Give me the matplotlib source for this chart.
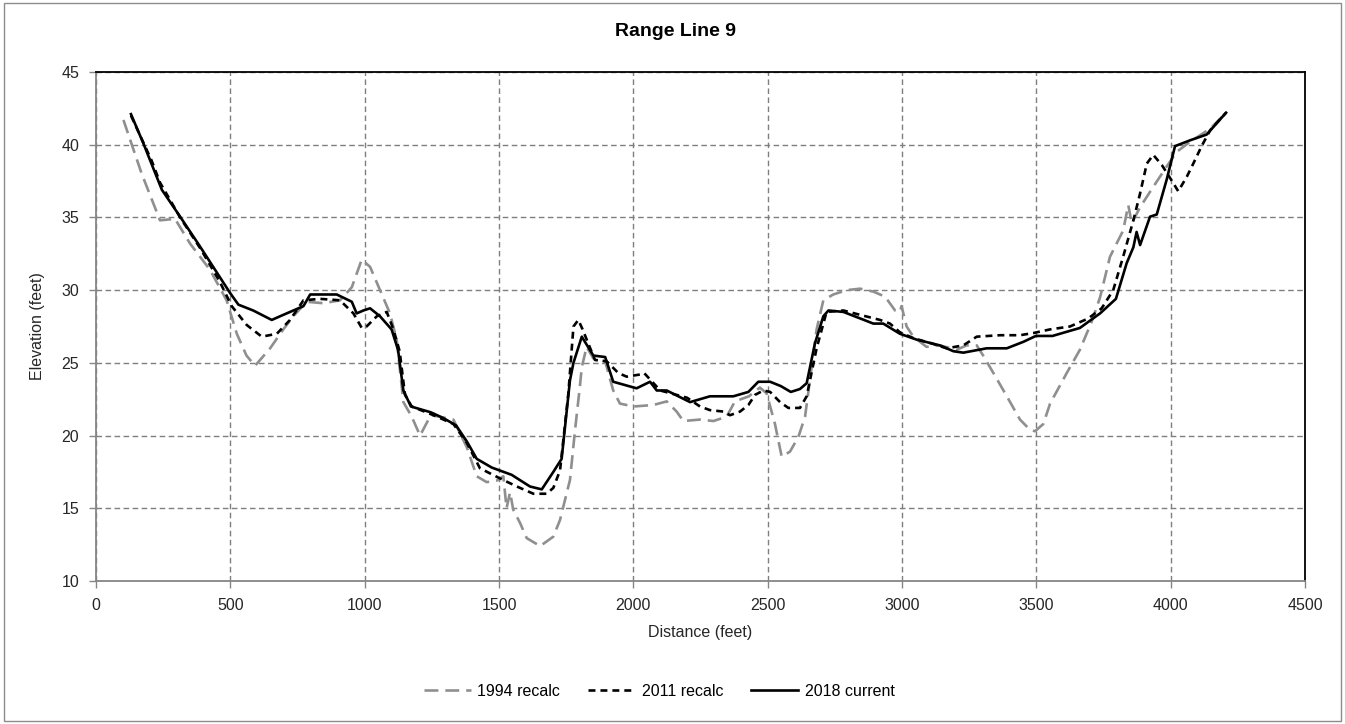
import numpy as np
import matplotlib.pyplot as plt
from matplotlib.patches import Rectangle

plt.rcParams['font.family'] = ['Liberation Sans', 'DejaVu Sans']
plt.rcParams['lines.scale_dashes'] = False

# survey profiles: distance (ft) and elevation (ft)
x_1994 = [102, 170, 238, 294, 350, 424, 486, 524, 560, 592, 648, 697, 734, 784, 846, 908,
          952, 989, 1020, 1057, 1094, 1119, 1144, 1175, 1206, 1243, 1250, 1330, 1380, 1417,
          1454, 1491, 1516, 1528, 1541, 1553, 1578, 1603, 1653, 1702, 1727, 1764, 1783, 1801,
          1808, 1826, 1851, 1895, 1925, 1950, 2000, 2074, 2124, 2161, 2186, 2248, 2298, 2347,
          2378, 2430, 2471, 2496, 2527, 2552, 2583, 2614, 2639, 2657, 2682, 2707, 2744, 2794,
          2844, 2893, 2937, 2974, 2992, 2998, 3017, 3042, 3091, 3141, 3203, 3240, 3278, 3302,
          3340, 3390, 3439, 3476, 3495, 3526, 3551, 3613, 3662, 3705, 3737, 3774, 3823, 3842,
          3855, 3886, 3935, 3985, 4022, 4072, 4147, 4190]
y_1994 = [41.7, 38.0, 34.8, 34.9, 33.2, 31.4, 29.3, 27.0, 25.5, 24.8, 26.0, 27.3, 28.2, 29.2,
          29.1, 29.3, 30.2, 32.1, 31.6, 30.0, 28.4, 26.6, 22.3, 21.3, 20.0, 21.3, 21.4, 21.1,
          19.2, 17.2, 16.8, 16.9, 17.2, 15.0, 16.1, 14.9, 14.0, 12.95, 12.4, 13.05, 14.2, 16.95,
          20.4, 23.4, 24.7, 26.1, 25.3, 25.1, 23.1, 22.2, 22.0, 22.1, 22.35, 21.65, 21.0, 21.1,
          21.0, 21.3, 22.35, 22.7, 23.3, 22.9, 20.8, 18.55, 18.9, 19.9, 21.3, 23.8, 27.3, 29.3,
          29.7, 30.0, 30.1, 29.9, 29.55, 28.6, 28.5, 28.9, 27.5, 26.8, 26.1, 26.2, 25.9, 26.2,
          26.2, 25.5, 24.3, 22.7, 21.1, 20.4, 20.3, 20.8, 22.2, 24.3, 25.9, 27.8, 29.5, 32.3,
          34.1, 35.85, 34.6, 35.7, 37.1, 38.5, 39.5, 40.2, 41.1, 41.9]

x_2011 = [130, 207, 238, 313, 387, 460, 505, 561, 617, 673, 722, 772, 834, 908, 958, 989,
          1007, 1045, 1082, 1107, 1130, 1150, 1175, 1256, 1330, 1380, 1429, 1504, 1566, 1628,
          1677, 1702, 1727, 1758, 1777, 1795, 1811, 1857, 1901, 1944, 1975, 2025, 2040, 2100,
          2200, 2248, 2285, 2335, 2360, 2397, 2428, 2453, 2484, 2509, 2546, 2577, 2620, 2645,
          2682, 2719, 2782, 2844, 2918, 2955, 2992, 3042, 3116, 3166, 3228, 3278, 3365, 3439,
          3489, 3551, 3625, 3693, 3743, 3786, 3823, 3861, 3886, 3911, 3935, 3967, 3998, 4028,
          4060, 4084, 4115, 4147, 4206]
y_2011 = [42.0, 38.9, 37.4, 35.0, 32.9, 30.6, 28.9, 27.6, 26.8, 27.0, 27.95, 29.3, 29.4,
          29.3, 28.4, 27.4, 27.5, 28.2, 28.5, 27.3, 25.8, 22.8, 22.0, 21.4, 20.8, 19.5, 17.75,
          17.05, 16.5, 16.0, 16.0, 16.4, 17.6, 22.9, 27.5, 27.95, 27.3, 25.2, 25.1, 24.3, 24.05,
          24.2, 24.3, 23.1, 22.6, 22.0, 21.75, 21.65, 21.4, 21.65, 22.1, 22.8, 23.1, 23.0, 22.3,
          21.9, 21.9, 22.7, 26.0, 28.5, 28.6, 28.3, 27.95, 27.7, 27.1, 26.7, 26.3, 26.0, 26.2,
          26.8, 26.9, 26.9, 27.05, 27.3, 27.5, 28.05, 28.75, 30.0, 32.3, 34.8, 36.65, 38.7,
          39.3, 38.6, 37.7, 36.8, 37.8, 38.7, 39.9, 41.0, 42.2]

x_2018 = [130, 176, 245, 313, 387, 499, 530, 585, 654, 697, 772, 797, 846, 896, 952, 970,
          995, 1020, 1057, 1100, 1124, 1144, 1172, 1246, 1293, 1340, 1380, 1417, 1473,
          1547, 1615, 1659, 1702, 1733, 1764, 1777, 1808, 1851, 1895, 1925, 2012, 2062, 2087,
          2124, 2211, 2285, 2372, 2428, 2465, 2509, 2549, 2586, 2620, 2645, 2676, 2707, 2726,
          2782, 2893, 2930, 2992, 3054, 3141, 3191, 3228, 3315, 3390, 3452, 3498, 3560, 3662,
          3737, 3796, 3836, 3861, 3873, 3886, 3923, 3948, 3985, 4016, 4072, 4134, 4206]
y_2018 = [42.1, 40.1, 36.9, 35.05, 33.0, 29.8, 29.0, 28.6, 27.95, 28.3, 28.9, 29.7, 29.7,
          29.7, 29.2, 28.4, 28.6, 28.75, 28.2, 27.3, 25.9, 23.1, 22.0, 21.6, 21.2, 20.7,
          19.6, 18.4, 17.8, 17.3, 16.5, 16.3, 17.5, 18.4, 23.8, 25.0, 26.8, 25.5, 25.4, 23.7,
          23.25, 23.7, 23.1, 23.1, 22.3, 22.7, 22.7, 23.0, 23.7, 23.7, 23.4, 23.0, 23.2, 23.6,
          26.35, 28.2, 28.6, 28.5, 27.7, 27.7, 27.0, 26.6, 26.2, 25.8, 25.7, 26.0, 26.0, 26.45,
          26.85, 26.85, 27.4, 28.4, 29.4, 31.85, 32.95, 34.0, 33.1, 35.05, 35.2, 37.6, 39.9,
          40.3, 40.7, 42.2]

fig = plt.figure(figsize=(13.45, 7.24), dpi=100)
fig.patches.append(Rectangle((0.003, 0.004), 0.994, 0.992, transform=fig.transFigure,
                             fill=False, edgecolor='#8c8c8c', linewidth=1.0))
ax = fig.add_axes([0.0714, 0.1975, 0.8989, 0.7031])

ax.plot(x_1994, y_1994, color='#8f8f8f', linewidth=1.9, dashes=(10, 5),
        label='1994 recalc', zorder=3)
ax.plot(x_2011, y_2011, color='black', linewidth=1.9, dashes=(5, 3.6),
        label='2011 recalc', zorder=4)
ax.plot(x_2018, y_2018, color='black', linewidth=1.9, label='2018 current', zorder=5)

ax.set_xlim(0, 4500)
ax.set_ylim(10, 45)
ax.set_xticks(np.arange(0, 4501, 500))
ax.set_yticks(np.arange(10, 46, 5))
ax.grid(True, color='#7f7f7f', linestyle=(0, (4, 2.5)), linewidth=1.0)

for side in ['left', 'bottom']:
    ax.spines[side].set_color('#868686')
    ax.spines[side].set_linewidth(1.3)
for side in ['top', 'right']:
    ax.spines[side].set_color('black')
    ax.spines[side].set_linewidth(1.3)
ax.tick_params(axis='both', direction='out', length=5, color='#868686', width=1.0,
               labelsize=11.5, labelcolor='#262626', pad=7)

ax.set_xlabel('Distance (feet)', fontsize=11.5, color='#262626', labelpad=9)
ax.set_ylabel('Elevation (feet)', fontsize=11.5, color='#262626', labelpad=12)
fig.text(0.5026, 0.957, 'Range Line 9', ha='center', va='center', fontsize=14,
         fontweight='bold', color='black')

fig.legend(loc='center', bbox_to_anchor=(0.49, 0.045), ncol=3, frameon=False,
           fontsize=11.5, handlelength=2.95, columnspacing=1.75, handletextpad=0.4)

fig.savefig('out.png', dpi=100)
